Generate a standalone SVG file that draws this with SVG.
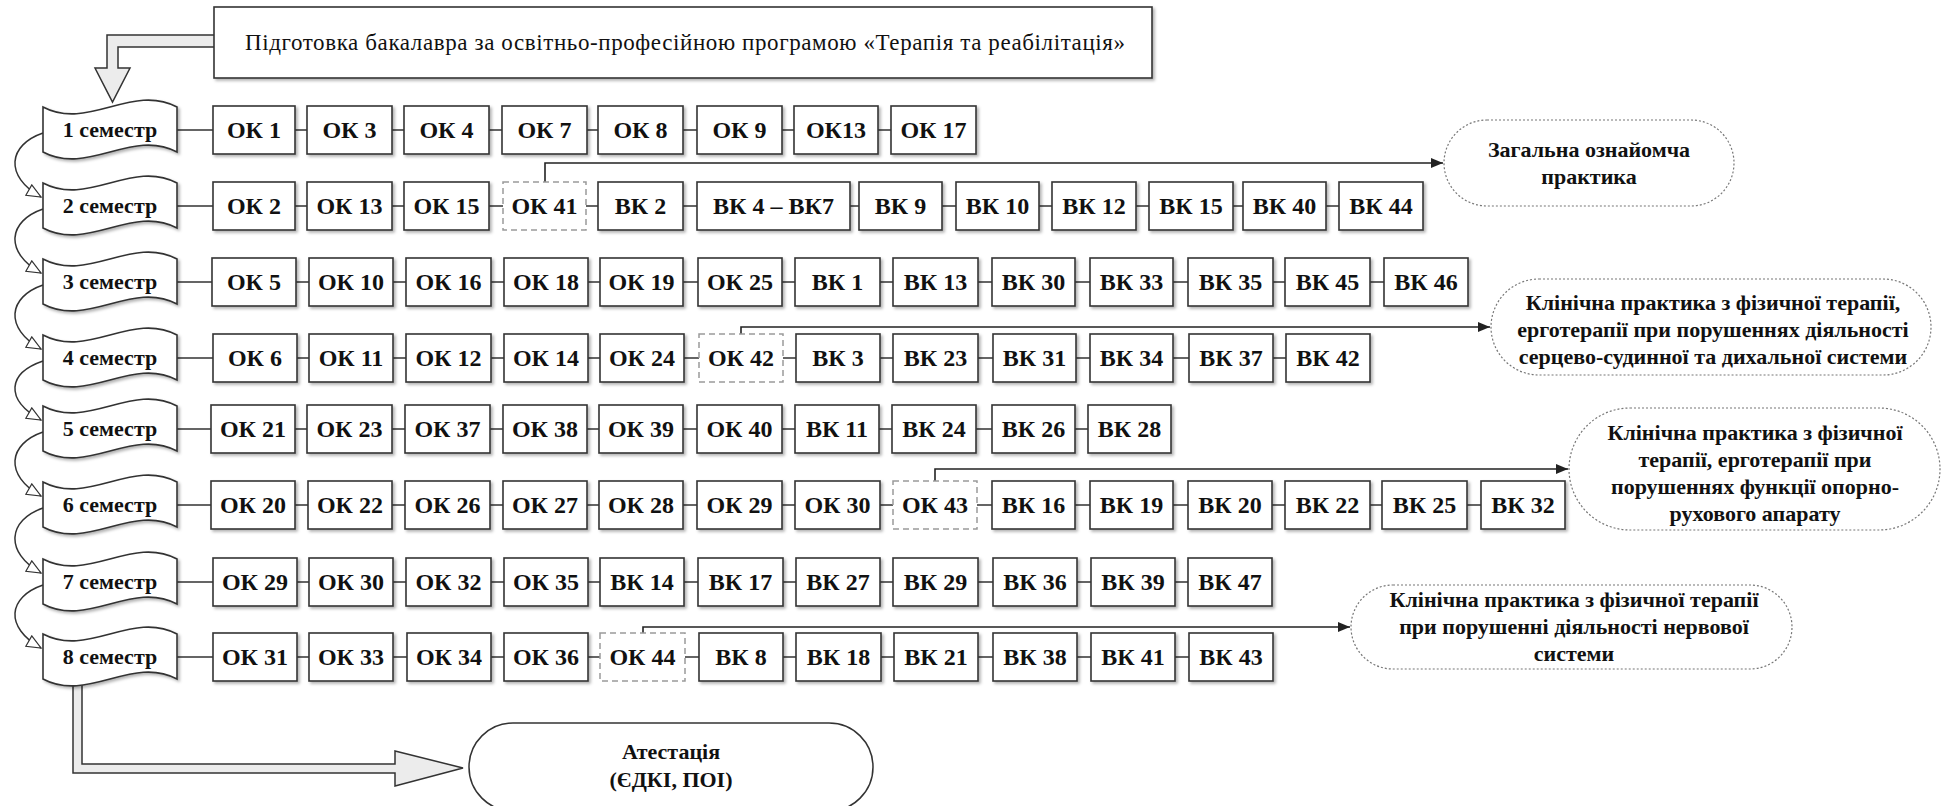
<svg xmlns="http://www.w3.org/2000/svg" width="1945" height="806" viewBox="0 0 1945 806">
<style>
.bg{fill:#fff}
.box{fill:#fff;stroke:#333;stroke-width:1.6;filter:url(#sh)}
.dbox{fill:#fff;stroke:#9a9a9a;stroke-width:1.5;stroke-dasharray:6 4}
.sem{fill:#fff;stroke:#333;stroke-width:1.6;filter:url(#sh)}
.oval{fill:#fff;stroke:#777;stroke-width:1.2;stroke-dasharray:2 2}
.oval2{fill:#fff;stroke:#333;stroke-width:1.5}
.blk{fill:#ececec;stroke:#333;stroke-width:1.5;stroke-linejoin:miter}
.t{font-family:"Liberation Serif","Times New Roman",serif;font-size:24px;font-weight:bold;fill:#111;text-anchor:middle}
.st{font-family:"Liberation Serif","Times New Roman",serif;font-size:22px;font-weight:bold;fill:#111;text-anchor:middle}
.ot{font-family:"Liberation Serif","Times New Roman",serif;font-size:22px;font-weight:bold;fill:#111;text-anchor:middle}
.tt{font-family:"Liberation Serif","Times New Roman",serif;font-size:23px;fill:#111}
.ln{fill:none;stroke:#333;stroke-width:1.6}
.cv{fill:none;stroke:#333;stroke-width:1.5;marker-end:url(#hollow)}
.pa{fill:none;stroke:#222;stroke-width:1.6;marker-end:url(#solid)}
</style>
<defs>
<filter id="sh" x="-10%" y="-10%" width="130%" height="140%">
<feDropShadow dx="2" dy="2" stdDeviation="1.5" flood-color="#000" flood-opacity="0.3"/>
</filter>
<marker id="hollow" markerWidth="18" markerHeight="16" refX="15" refY="7" orient="auto" markerUnits="userSpaceOnUse">
<path d="M1,1 L15,7 L1,13 Z" fill="#fff" stroke="#333" stroke-width="1.2"/>
</marker>
<marker id="solid" markerWidth="14" markerHeight="12" refX="12" refY="5" orient="auto" markerUnits="userSpaceOnUse">
<path d="M0,0 L12,5 L0,10 Z" fill="#222"/>
</marker>
</defs>
<rect class="bg" x="0" y="0" width="1945" height="806"/>

<g id="connectors">
<polygon class="blk" points="216,35 107,35 107,68 95,68 112.5,102 130,68 118,68 118,47 216,47"/>
<polygon class="blk" points="73,675 73,773 395,773 395,786 463,768 395,751 395,764 82,764 82,675"/>
<path class="cv" d="M43,133 C8,145 4,176 41,197"/>
<path class="cv" d="M43,209 C8,221 4,252 41,273"/>
<path class="cv" d="M43,285 C8,297 4,328 41,349"/>
<path class="cv" d="M43,361 C8,373 4,399 41,420"/>
<path class="cv" d="M43,432 C8,444 4,475 41,496"/>
<path class="cv" d="M43,508 C8,520 4,552 41,573"/>
<path class="cv" d="M43,585 C8,597 4,627 41,648"/>
<path class="ln" d="M177,130H213 M295,130H307 M392,130H404 M489,130H502 M587,130H598 M683,130H697 M782,130H794 M878,130H891"/>
<path class="ln" d="M177,206H213 M295,206H307 M392,206H404 M489,206H503 M586,206H598 M683,206H697 M850,206H859 M942,206H956 M1039,206H1052 M1136,206H1149 M1233,206H1243 M1326,206H1339"/>
<path class="ln" d="M177,282H212 M296,282H309 M393,282H406 M491,282H504 M588,282H600 M683,282H698 M782,282H795 M880,282H893 M978,282H992 M1075,282H1090 M1173,282H1188 M1273,282H1285 M1370,282H1384"/>
<path class="ln" d="M177,358H213 M297,358H309 M393,358H406 M491,358H504 M588,358H600 M684,358H699 M783,358H796 M880,358H893 M978,358H993 M1076,358H1090 M1173,358H1189 M1273,358H1286"/>
<path class="ln" d="M177,429H211 M295,429H307 M392,429H405 M490,429H503 M587,429H599 M683,429H697 M782,429H795 M879,429H892 M976,429H992 M1075,429H1088"/>
<path class="ln" d="M177,505H211 M295,505H308 M392,505H405 M490,505H503 M587,505H599 M683,505H697 M782,505H795 M880,505H893 M977,505H992 M1075,505H1090 M1173,505H1188 M1272,505H1285 M1370,505H1382 M1467,505H1481"/>
<path class="ln" d="M177,582H213 M297,582H309 M393,582H406 M491,582H504 M588,582H600 M684,582H698 M783,582H796 M880,582H893 M978,582H993 M1077,582H1091 M1175,582H1188"/>
<path class="ln" d="M177,657H213 M297,657H309 M393,657H407 M491,657H504 M588,657H600 M685,657H699 M783,657H796 M881,657H894 M978,657H993 M1077,657H1091 M1175,657H1189"/>
<path class="pa" d="M545,182 V163 H1443"/>
<path class="pa" d="M741,334 V327 H1490"/>
<path class="pa" d="M935,481 V469 H1568"/>
<path class="pa" d="M643,633 V627 H1350"/>
</g>

<g id="title">
<rect class="box" x="214" y="7" width="938" height="71"/>
<text class="tt" x="245" y="50" textLength="880" lengthAdjust="spacing">Підготовка бакалавра за освітньо-професійною програмою «Терапія та реабілітація»</text>
</g>

<g id="sem1"><path class="sem" d="M43,107 C88,131 132,83 177,107 L177,152 C132,128 88,176 43,152 Z"/><text class="st" x="110" y="137">1 семестр</text></g>
<g id="sem2"><path class="sem" d="M43,183 C88,207 132,159 177,183 L177,228 C132,204 88,252 43,228 Z"/><text class="st" x="110" y="213">2 семестр</text></g>
<g id="sem3"><path class="sem" d="M43,259 C88,283 132,235 177,259 L177,304 C132,280 88,328 43,304 Z"/><text class="st" x="110" y="289">3 семестр</text></g>
<g id="sem4"><path class="sem" d="M43,335 C88,359 132,311 177,335 L177,380 C132,356 88,404 43,380 Z"/><text class="st" x="110" y="365">4 семестр</text></g>
<g id="sem5"><path class="sem" d="M43,406 C88,430 132,382 177,406 L177,451 C132,427 88,475 43,451 Z"/><text class="st" x="110" y="436">5 семестр</text></g>
<g id="sem6"><path class="sem" d="M43,482 C88,506 132,458 177,482 L177,527 C132,503 88,551 43,527 Z"/><text class="st" x="110" y="512">6 семестр</text></g>
<g id="sem7"><path class="sem" d="M43,559 C88,583 132,535 177,559 L177,604 C132,580 88,628 43,604 Z"/><text class="st" x="110" y="589">7 семестр</text></g>
<g id="sem8"><path class="sem" d="M43,634 C88,658 132,610 177,634 L177,679 C132,655 88,703 43,679 Z"/><text class="st" x="110" y="664">8 семестр</text></g>

<g id="row1">
<g id="r1-ok1"><rect class="box" x="213" y="106" width="82" height="48"/><text class="t" x="254" y="138">ОК 1</text></g>
<g id="r1-ok3"><rect class="box" x="307" y="106" width="85" height="48"/><text class="t" x="349.5" y="138">ОК 3</text></g>
<g id="r1-ok4"><rect class="box" x="404" y="106" width="85" height="48"/><text class="t" x="446.5" y="138">ОК 4</text></g>
<g id="r1-ok7"><rect class="box" x="502" y="106" width="85" height="48"/><text class="t" x="544.5" y="138">ОК 7</text></g>
<g id="r1-ok8"><rect class="box" x="598" y="106" width="85" height="48"/><text class="t" x="640.5" y="138">ОК 8</text></g>
<g id="r1-ok9"><rect class="box" x="697" y="106" width="85" height="48"/><text class="t" x="739.5" y="138">ОК 9</text></g>
<g id="r1-ok13"><rect class="box" x="794" y="106" width="84" height="48"/><text class="t" x="836" y="138">ОК13</text></g>
<g id="r1-ok17"><rect class="box" x="891" y="106" width="85" height="48"/><text class="t" x="933.5" y="138">ОК 17</text></g>
</g>

<g id="row2">
<g id="r2-ok2"><rect class="box" x="213" y="182" width="82" height="48"/><text class="t" x="254" y="214">ОК 2</text></g>
<g id="r2-ok13"><rect class="box" x="307" y="182" width="85" height="48"/><text class="t" x="349.5" y="214">ОК 13</text></g>
<g id="r2-ok15"><rect class="box" x="404" y="182" width="85" height="48"/><text class="t" x="446.5" y="214">ОК 15</text></g>
<g id="r2-ok41"><rect class="dbox" x="503" y="182" width="83" height="48"/><text class="t" x="544.5" y="214">ОК 41</text></g>
<g id="r2-vk2"><rect class="box" x="598" y="182" width="85" height="48"/><text class="t" x="640.5" y="214">ВК 2</text></g>
<g id="r2-vk4-7"><rect class="box" x="697" y="182" width="153" height="48"/><text class="t" x="773.5" y="214">ВК 4 – ВК7</text></g>
<g id="r2-vk9"><rect class="box" x="859" y="182" width="83" height="48"/><text class="t" x="900.5" y="214">ВК 9</text></g>
<g id="r2-vk10"><rect class="box" x="956" y="182" width="83" height="48"/><text class="t" x="997.5" y="214">ВК 10</text></g>
<g id="r2-vk12"><rect class="box" x="1052" y="182" width="84" height="48"/><text class="t" x="1094" y="214">ВК 12</text></g>
<g id="r2-vk15"><rect class="box" x="1149" y="182" width="84" height="48"/><text class="t" x="1191" y="214">ВК 15</text></g>
<g id="r2-vk40"><rect class="box" x="1243" y="182" width="83" height="48"/><text class="t" x="1284.5" y="214">ВК 40</text></g>
<g id="r2-vk44"><rect class="box" x="1339" y="182" width="84" height="48"/><text class="t" x="1381" y="214">ВК 44</text></g>
</g>

<g id="row3">
<g id="r3-ok5"><rect class="box" x="212" y="258" width="84" height="48"/><text class="t" x="254" y="290">ОК 5</text></g>
<g id="r3-ok10"><rect class="box" x="309" y="258" width="84" height="48"/><text class="t" x="351" y="290">ОК 10</text></g>
<g id="r3-ok16"><rect class="box" x="406" y="258" width="85" height="48"/><text class="t" x="448.5" y="290">ОК 16</text></g>
<g id="r3-ok18"><rect class="box" x="504" y="258" width="84" height="48"/><text class="t" x="546" y="290">ОК 18</text></g>
<g id="r3-ok19"><rect class="box" x="600" y="258" width="83" height="48"/><text class="t" x="641.5" y="290">ОК 19</text></g>
<g id="r3-ok25"><rect class="box" x="698" y="258" width="84" height="48"/><text class="t" x="740" y="290">ОК 25</text></g>
<g id="r3-vk1"><rect class="box" x="795" y="258" width="85" height="48"/><text class="t" x="837.5" y="290">ВК 1</text></g>
<g id="r3-vk13"><rect class="box" x="893" y="258" width="85" height="48"/><text class="t" x="935.5" y="290">ВК 13</text></g>
<g id="r3-vk30"><rect class="box" x="992" y="258" width="83" height="48"/><text class="t" x="1033.5" y="290">ВК 30</text></g>
<g id="r3-vk33"><rect class="box" x="1090" y="258" width="83" height="48"/><text class="t" x="1131.5" y="290">ВК 33</text></g>
<g id="r3-vk35"><rect class="box" x="1188" y="258" width="85" height="48"/><text class="t" x="1230.5" y="290">ВК 35</text></g>
<g id="r3-vk45"><rect class="box" x="1285" y="258" width="85" height="48"/><text class="t" x="1327.5" y="290">ВК 45</text></g>
<g id="r3-vk46"><rect class="box" x="1384" y="258" width="84" height="48"/><text class="t" x="1426" y="290">ВК 46</text></g>
</g>

<g id="row4">
<g id="r4-ok6"><rect class="box" x="213" y="334" width="84" height="48"/><text class="t" x="255" y="366">ОК 6</text></g>
<g id="r4-ok11"><rect class="box" x="309" y="334" width="84" height="48"/><text class="t" x="351" y="366">ОК 11</text></g>
<g id="r4-ok12"><rect class="box" x="406" y="334" width="85" height="48"/><text class="t" x="448.5" y="366">ОК 12</text></g>
<g id="r4-ok14"><rect class="box" x="504" y="334" width="84" height="48"/><text class="t" x="546" y="366">ОК 14</text></g>
<g id="r4-ok24"><rect class="box" x="600" y="334" width="84" height="48"/><text class="t" x="642" y="366">ОК 24</text></g>
<g id="r4-ok42"><rect class="dbox" x="699" y="334" width="84" height="48"/><text class="t" x="741" y="366">ОК 42</text></g>
<g id="r4-vk3"><rect class="box" x="796" y="334" width="84" height="48"/><text class="t" x="838" y="366">ВК 3</text></g>
<g id="r4-vk23"><rect class="box" x="893" y="334" width="85" height="48"/><text class="t" x="935.5" y="366">ВК 23</text></g>
<g id="r4-vk31"><rect class="box" x="993" y="334" width="83" height="48"/><text class="t" x="1034.5" y="366">ВК 31</text></g>
<g id="r4-vk34"><rect class="box" x="1090" y="334" width="83" height="48"/><text class="t" x="1131.5" y="366">ВК 34</text></g>
<g id="r4-vk37"><rect class="box" x="1189" y="334" width="84" height="48"/><text class="t" x="1231" y="366">ВК 37</text></g>
<g id="r4-vk42"><rect class="box" x="1286" y="334" width="84" height="48"/><text class="t" x="1328" y="366">ВК 42</text></g>
</g>

<g id="row5">
<g id="r5-ok21"><rect class="box" x="211" y="405" width="84" height="48"/><text class="t" x="253" y="437">ОК 21</text></g>
<g id="r5-ok23"><rect class="box" x="307" y="405" width="85" height="48"/><text class="t" x="349.5" y="437">ОК 23</text></g>
<g id="r5-ok37"><rect class="box" x="405" y="405" width="85" height="48"/><text class="t" x="447.5" y="437">ОК 37</text></g>
<g id="r5-ok38"><rect class="box" x="503" y="405" width="84" height="48"/><text class="t" x="545" y="437">ОК 38</text></g>
<g id="r5-ok39"><rect class="box" x="599" y="405" width="84" height="48"/><text class="t" x="641" y="437">ОК 39</text></g>
<g id="r5-ok40"><rect class="box" x="697" y="405" width="85" height="48"/><text class="t" x="739.5" y="437">ОК 40</text></g>
<g id="r5-vk11"><rect class="box" x="795" y="405" width="84" height="48"/><text class="t" x="837" y="437">ВК 11</text></g>
<g id="r5-vk24"><rect class="box" x="892" y="405" width="84" height="48"/><text class="t" x="934" y="437">ВК 24</text></g>
<g id="r5-vk26"><rect class="box" x="992" y="405" width="83" height="48"/><text class="t" x="1033.5" y="437">ВК 26</text></g>
<g id="r5-vk28"><rect class="box" x="1088" y="405" width="83" height="48"/><text class="t" x="1129.5" y="437">ВК 28</text></g>
</g>

<g id="row6">
<g id="r6-ok20"><rect class="box" x="211" y="481" width="84" height="48"/><text class="t" x="253" y="513">ОК 20</text></g>
<g id="r6-ok22"><rect class="box" x="308" y="481" width="84" height="48"/><text class="t" x="350" y="513">ОК 22</text></g>
<g id="r6-ok26"><rect class="box" x="405" y="481" width="85" height="48"/><text class="t" x="447.5" y="513">ОК 26</text></g>
<g id="r6-ok27"><rect class="box" x="503" y="481" width="84" height="48"/><text class="t" x="545" y="513">ОК 27</text></g>
<g id="r6-ok28"><rect class="box" x="599" y="481" width="84" height="48"/><text class="t" x="641" y="513">ОК 28</text></g>
<g id="r6-ok29"><rect class="box" x="697" y="481" width="85" height="48"/><text class="t" x="739.5" y="513">ОК 29</text></g>
<g id="r6-ok30"><rect class="box" x="795" y="481" width="85" height="48"/><text class="t" x="837.5" y="513">ОК 30</text></g>
<g id="r6-ok43"><rect class="dbox" x="893" y="481" width="84" height="48"/><text class="t" x="935" y="513">ОК 43</text></g>
<g id="r6-vk16"><rect class="box" x="992" y="481" width="83" height="48"/><text class="t" x="1033.5" y="513">ВК 16</text></g>
<g id="r6-vk19"><rect class="box" x="1090" y="481" width="83" height="48"/><text class="t" x="1131.5" y="513">ВК 19</text></g>
<g id="r6-vk20"><rect class="box" x="1188" y="481" width="84" height="48"/><text class="t" x="1230" y="513">ВК 20</text></g>
<g id="r6-vk22"><rect class="box" x="1285" y="481" width="85" height="48"/><text class="t" x="1327.5" y="513">ВК 22</text></g>
<g id="r6-vk25"><rect class="box" x="1382" y="481" width="85" height="48"/><text class="t" x="1424.5" y="513">ВК 25</text></g>
<g id="r6-vk32"><rect class="box" x="1481" y="481" width="84" height="48"/><text class="t" x="1523" y="513">ВК 32</text></g>
</g>

<g id="row7">
<g id="r7-ok29"><rect class="box" x="213" y="558" width="84" height="48"/><text class="t" x="255" y="590">ОК 29</text></g>
<g id="r7-ok30"><rect class="box" x="309" y="558" width="84" height="48"/><text class="t" x="351" y="590">ОК 30</text></g>
<g id="r7-ok32"><rect class="box" x="406" y="558" width="85" height="48"/><text class="t" x="448.5" y="590">ОК 32</text></g>
<g id="r7-ok35"><rect class="box" x="504" y="558" width="84" height="48"/><text class="t" x="546" y="590">ОК 35</text></g>
<g id="r7-vk14"><rect class="box" x="600" y="558" width="84" height="48"/><text class="t" x="642" y="590">ВК 14</text></g>
<g id="r7-vk17"><rect class="box" x="698" y="558" width="85" height="48"/><text class="t" x="740.5" y="590">ВК 17</text></g>
<g id="r7-vk27"><rect class="box" x="796" y="558" width="84" height="48"/><text class="t" x="838" y="590">ВК 27</text></g>
<g id="r7-vk29"><rect class="box" x="893" y="558" width="85" height="48"/><text class="t" x="935.5" y="590">ВК 29</text></g>
<g id="r7-vk36"><rect class="box" x="993" y="558" width="84" height="48"/><text class="t" x="1035" y="590">ВК 36</text></g>
<g id="r7-vk39"><rect class="box" x="1091" y="558" width="84" height="48"/><text class="t" x="1133" y="590">ВК 39</text></g>
<g id="r7-vk47"><rect class="box" x="1188" y="558" width="84" height="48"/><text class="t" x="1230" y="590">ВК 47</text></g>
</g>

<g id="row8">
<g id="r8-ok31"><rect class="box" x="213" y="633" width="84" height="48"/><text class="t" x="255" y="665">ОК 31</text></g>
<g id="r8-ok33"><rect class="box" x="309" y="633" width="84" height="48"/><text class="t" x="351" y="665">ОК 33</text></g>
<g id="r8-ok34"><rect class="box" x="407" y="633" width="84" height="48"/><text class="t" x="449" y="665">ОК 34</text></g>
<g id="r8-ok36"><rect class="box" x="504" y="633" width="84" height="48"/><text class="t" x="546" y="665">ОК 36</text></g>
<g id="r8-ok44"><rect class="dbox" x="600" y="633" width="85" height="48"/><text class="t" x="642.5" y="665">ОК 44</text></g>
<g id="r8-vk8"><rect class="box" x="699" y="633" width="84" height="48"/><text class="t" x="741" y="665">ВК 8</text></g>
<g id="r8-vk18"><rect class="box" x="796" y="633" width="85" height="48"/><text class="t" x="838.5" y="665">ВК 18</text></g>
<g id="r8-vk21"><rect class="box" x="894" y="633" width="84" height="48"/><text class="t" x="936" y="665">ВК 21</text></g>
<g id="r8-vk38"><rect class="box" x="993" y="633" width="84" height="48"/><text class="t" x="1035" y="665">ВК 38</text></g>
<g id="r8-vk41"><rect class="box" x="1091" y="633" width="84" height="48"/><text class="t" x="1133" y="665">ВК 41</text></g>
<g id="r8-vk43"><rect class="box" x="1189" y="633" width="84" height="48"/><text class="t" x="1231" y="665">ВК 43</text></g>
</g>

<g id="practice1"><rect class="oval" x="1444" y="120" width="290" height="86" rx="43"/>
<text class="ot" x="1589" y="157">Загальна ознайомча</text><text class="ot" x="1589" y="184">практика</text></g>
<g id="practice2"><rect class="oval" x="1491" y="279" width="440" height="96" rx="48"/>
<text class="ot" x="1713" y="310">Клінічна практика з фізичної терапії,</text>
<text class="ot" x="1713" y="337">ерготерапії при порушеннях діяльності</text>
<text class="ot" x="1713" y="364">серцево-судинної та дихальної системи</text></g>
<g id="practice3"><rect class="oval" x="1569" y="408" width="371" height="122" rx="61"/>
<text class="ot" x="1755" y="440">Клінічна практика з фізичної</text>
<text class="ot" x="1755" y="467">терапії, ерготерапії при</text>
<text class="ot" x="1755" y="494">порушеннях функції опорно-</text>
<text class="ot" x="1755" y="521">рухового апарату</text></g>
<g id="practice4"><rect class="oval" x="1351" y="585" width="441" height="84" rx="42"/>
<text class="ot" x="1574" y="607">Клінічна практика з фізичної терапії</text>
<text class="ot" x="1574" y="634">при порушенні діяльності нервової</text>
<text class="ot" x="1574" y="661">системи</text></g>
<g id="attestation"><rect class="oval2" x="469" y="723" width="404" height="88" rx="44"/>
<text class="ot" x="671" y="759">Атестація</text><text class="ot" x="671" y="787">(ЄДКІ, ПОІ)</text></g>
</svg>
